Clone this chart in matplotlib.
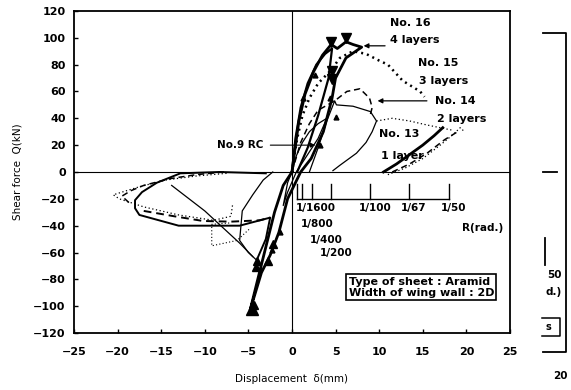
import matplotlib.pyplot as plt
import matplotlib.lines as mlines

# specimen No.16 (4 layers) - thick solid
no16_x = [0, 0.3, 0.8, 1.5, 2.5, 3.5, 4.5, 5.2, 6.2, 7.0, 8.0, 6.2, 5.0, 4.6, 3.6, 2.2, 1.0,
          -0.5, -1.5, -2.5, -3.5, -4.8, -4.0, -3.0, -2.0, -1.0, 0]
no16_y = [0, 15, 38, 58, 75, 87, 95, 92, 97, 95, 93, 85, 70, 55, 30, 10, 0,
          -20, -45, -62, -75, -103, -82, -56, -30, -10, 0]
no16_cyc_x = [0, 0.4, 1.0, 1.8, 2.8, 3.8, 4.6, 4.2, 3.0, 1.8, 0.6]
no16_cyc_y = [0, 25, 48, 66, 80, 88, 92, 70, 42, 18, 0]
no16_rel_x = [10.5, 12.0, 13.5, 15.0, 16.3, 17.3]
no16_rel_y = [0, 6, 13, 20, 27, 33]
no16_neg_x = [-3.0, -8.3, -12.8, -15.5, -17.2, -18.0, -18.0, -17.5, -13.0, -6.0, -2.5, -3.0, -4.0]
no16_neg_y = [-1, 0, -1, -8, -15, -21, -27, -32, -40, -40, -34, -50, -65]

# specimen No.15 (3 layers) - heavy dots
no15_x = [0, 0.6, 1.2, 2.0, 3.0, 4.5, 5.5, 7.0, 8.5, 10.0, 11.0, 12.7, 14.7, 15.2]
no15_y = [0, 25, 42, 55, 66, 76, 85, 90, 88, 83, 80, 68, 60, 56]
no15_neg_x = [-7.5, -11.0, -14.5, -17.5, -19.5, -20.5, -19.8, -17.0, -13.0, -9.0, -7.0, -6.8]
no15_neg_y = [-1, -3, -6, -11, -15, -17, -20, -26, -32, -36, -33, -24]
no15_rel_x = [11.0, 13.0, 15.0, 17.0, 18.5, 19.3, 19.8]
no15_rel_y = [-2, 3, 10, 20, 28, 33, 30]
no15_box_x = [-7.2, -9.2, -9.2, -6.3, -4.8]
no15_box_y = [-38, -39, -55, -51, -42]

# specimen No.14 (2 layers) - dashed
no14_x = [0, 1.0, 2.0, 3.0, 4.9, 6.3, 7.8, 8.9, 9.2, 9.0]
no14_y = [0, 22, 36, 46, 53, 60, 62, 55, 48, 43]
no14_tail_x = [9.7, 11.5, 13.5, 15.5, 17.0, 18.5]
no14_tail_y = [38, 40, 38, 35, 33, 31]
no14_neg_x = [-7.8, -11.0, -14.0, -17.0, -18.5, -19.5, -18.5]
no14_neg_y = [0, -2, -5, -10, -14, -18, -24]
no14_low_x = [-17.0, -13.5, -10.2, -7.0, -3.7, -2.5]
no14_low_y = [-29, -33, -36.5, -37, -36, -34]
no14_rel_x = [11.5, 13.5, 15.5, 17.5, 19.0]
no14_rel_y = [0, 6, 14, 24, 30]

# specimen No.13 (1 layer) - thin solid
no13_x = [2.0, 3.0, 4.0, 4.9, 5.1, 7.0, 9.0, 9.7, 9.2, 8.5, 7.4, 5.5, 4.7]
no13_y = [0, 18, 38, 53, 50, 49, 45, 38, 30, 22, 14, 5, 1]
no13_neg_x = [-2.2, -3.3, -4.5, -5.7, -6.0, -5.0, -4.0]
no13_neg_y = [0, -6, -17, -29, -51, -60, -66]
no13_diag_x = [-13.8, -10.0, -6.0, -4.5]
no13_diag_y = [-10, -29, -53, -63]

# specimen No.9 RC - thin solid
rc9_x = [0, 0.5, 1.2, 2.0, 3.0, 4.0, 3.0, 1.5, 0.5, -0.5, -1.0, -0.5, 0]
rc9_y = [0, 12, 22, 30, 36, 40, 25, 10, 0, -15, -25, -8, 0]

# load markers
peak_pos_x = [4.5, 6.2, 4.6, 4.6]
peak_pos_y = [97, 100, 75, 69]
peak_neg_x = [-4.0, -4.1, -2.75, -2.2, -4.3]
peak_neg_y = [-66, -71, -66, -54, -99]
dir_x = [1.3, 2.6, 4.4, 5.1, 3.2, -1.4, -2.3]
dir_y = [55, 72, 55, 41, 20, -45, -58]

# drift angle scale, storey height 900 mm
h_mm = 900
r_den = [1600, 800, 400, 200, 100, 67, 50]
r_labels = ["1/1600", "1/800", "1/400", "1/200", "1/100", "1/67", "1/50"]

fig = plt.figure(figsize=(5.71, 3.90), dpi=100)
ax = fig.add_axes([0.1296, 0.146, 0.7634, 0.826])

ax.axhline(0, color="black", lw=0.8)
ax.axvline(0, color="black", lw=0.8)

thick = dict(color="black", lw=2.0, solid_joinstyle="round")
ax.plot(no16_x, no16_y, **thick)
ax.plot(no16_cyc_x, no16_cyc_y, color="black", lw=1.6)
ax.plot(no16_rel_x, no16_rel_y, **thick)
ax.plot(no16_neg_x, no16_neg_y, color="black", lw=1.4)

dots = dict(color="black", lw=1.8, ls=(0, (0.8, 1.6)))
ax.plot(no15_x, no15_y, **dots)
ax.plot(no15_neg_x, no15_neg_y, color="black", lw=0.9, ls=(0, (1, 2)))
ax.plot(no15_rel_x, no15_rel_y, color="black", lw=0.9, ls=(0, (1, 2)))
ax.plot(no15_box_x, no15_box_y, color="black", lw=0.8, ls=(0, (1, 2)))

dash = dict(color="black", lw=1.1, ls=(0, (4, 2.5)))
ax.plot(no14_x, no14_y, **dash)
ax.plot(no14_tail_x, no14_tail_y, color="black", lw=0.9, ls=(0, (1, 2)))
ax.plot(no14_neg_x, no14_neg_y, **dash)
ax.plot(no14_low_x, no14_low_y, color="black", lw=1.4, ls=(0, (4, 2.5)))
ax.plot(no14_rel_x, no14_rel_y, **dash)

thin = dict(color="black", lw=0.9)
ax.plot(no13_x, no13_y, **thin)
ax.plot(no13_neg_x, no13_neg_y, **thin)
ax.plot(no13_diag_x, no13_diag_y, **thin)
ax.plot(rc9_x, rc9_y, **thin)

ax.plot(peak_pos_x, peak_pos_y, "v", color="black", ms=7, ls="none")
ax.plot(peak_neg_x, peak_neg_y, "^", color="black", ms=6, ls="none")
ax.plot([-4.6], [-102], "^", color="black", ms=9)
ax.plot(dir_x, dir_y, "^", color="black", ms=3.5, ls="none")

# drift angle scale
r_mm = [h_mm / d for d in r_den]
ax.plot([r_mm[0], r_mm[-1]], [-20, -20], color="black", lw=1.0)
for r in r_mm:
    ax.plot([r, r], [-20, -9], color="black", lw=1.0)
tf = dict(fontsize=7.5, fontweight="bold")
ax.text(r_mm[0] - 0.1, -23, r_labels[0], va="top", ha="left", **tf)
for r, lab in zip(r_mm[4:], r_labels[4:]):
    ax.text(r + 0.5, -23, lab, va="top", ha="center", **tf)
ax.text(1.0, -35, r_labels[1], va="top", **tf)
ax.text(2.0, -47, r_labels[2], va="top", **tf)
ax.text(3.2, -57, r_labels[3], va="top", **tf)
ax.text(24.2, -42, "R(rad.)", ha="right", va="center", **tf)

# specimen labels
lf = dict(fontsize=8, fontweight="bold", family="DejaVu Sans")
ax.text(11.2, 111, "No. 16", va="center", **lf)
ax.text(11.3, 98, "4 layers", va="center", **lf)
ax.annotate("", xy=(7.9, 94), xytext=(11.0, 94),
            arrowprops=dict(arrowstyle="-|>", color="black", lw=0.9, mutation_scale=7))
ax.text(14.5, 81, "No. 15", va="center", **lf)
ax.text(14.6, 68, "3 layers", va="center", **lf)
ax.text(16.4, 53, "No. 14", va="center", **lf)
ax.text(16.6, 39.5, "2 layers", va="center", **lf)
ax.annotate("", xy=(9.5, 53), xytext=(15.8, 53),
            arrowprops=dict(arrowstyle="-|>", color="black", lw=0.9, mutation_scale=7))
ax.text(10.0, 28, "No. 13", va="center", **lf)
ax.text(10.2, 12, "1 layer", va="center", **lf)
ax.text(-3.3, 20, "No.9 RC", ha="right", va="center", fontsize=7.5, fontweight="bold")
ax.annotate("", xy=(3.0, 20), xytext=(-2.8, 20),
            arrowprops=dict(arrowstyle="-|>", color="black", lw=0.8, mutation_scale=7))

ax.text(6.5, -86, "Type of sheet : Aramid\nWidth of wing wall : 2D",
        ha="left", va="center", fontsize=8, fontweight="bold", linespacing=1.2,
        bbox=dict(boxstyle="square,pad=0.2", fc="white", ec="black", lw=1.2))

ax.set_xlim(-25, 25)
ax.set_ylim(-120, 120)
ax.set_xticks(range(-25, 26, 5))
ax.set_yticks(range(-120, 121, 20))
ax.tick_params(direction="in", length=3, width=1.0, labelsize=8)
ax.tick_params(axis="x", pad=10)
ax.tick_params(axis="y", pad=6)
for lab in ax.get_xticklabels() + ax.get_yticklabels():
    lab.set_fontweight("bold")
for s in ax.spines.values():
    s.set_linewidth(1.3)
ax.set_xlabel("Displacement  δ(mm)", fontsize=7.5, labelpad=12)
ax.set_ylabel("Shear force  Q(kN)", fontsize=7.5, labelpad=8)

# edge of the neighbouring panel
W, H = 571, 390
def fline(xs, ys, lw=1.3):
    fig.add_artist(mlines.Line2D([x / W for x in xs], [1 - y / H for y in ys],
                                 color="black", lw=lw))
fline([543, 566, 566, 543], [33, 33, 352, 352])
fline([543, 557], [172, 172])
fline([545, 545], [238, 265])
fline([542, 560, 560, 542], [318, 318, 336, 336], lw=1.1)
fig.text(547 / W, 1 - 275 / H, "50", fontsize=7.5, fontweight="bold", va="center")
fig.text(545 / W, 1 - 292 / H, "d.)", fontsize=7.5, fontweight="bold", va="center")
fig.text(545 / W, 1 - 327 / H, "s", fontsize=7, fontweight="bold", va="center")
fig.text(553 / W, 1 - 376 / H, "20", fontsize=7.5, fontweight="bold", va="center")

fig.savefig("out.png", dpi=100)
